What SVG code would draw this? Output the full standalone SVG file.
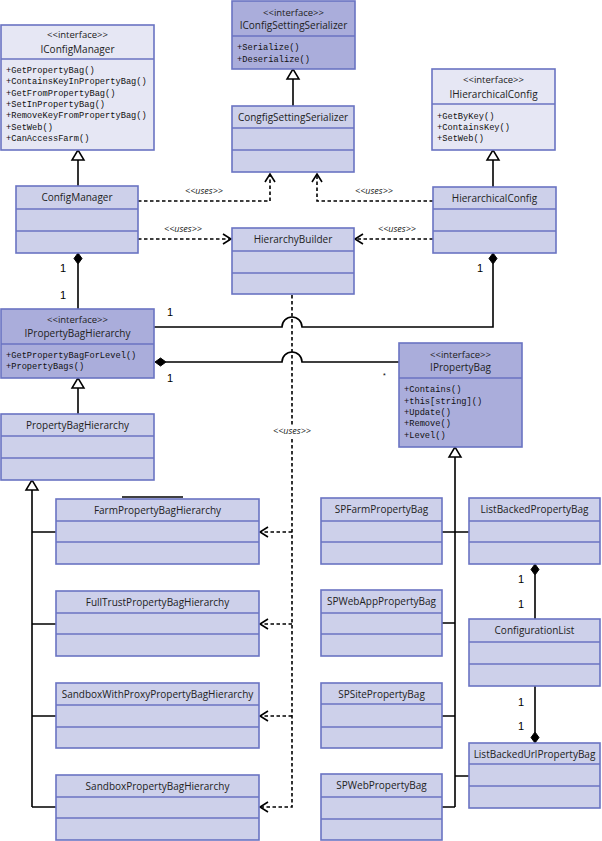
<svg xmlns="http://www.w3.org/2000/svg" width="602" height="841" viewBox="0 0 602 841">
<style>
.cls{fill:#cdd0ea;stroke:#6a73c2;stroke-width:1.6}
.ifd{fill:#aaaddb;stroke:#6a73c2;stroke-width:1.6}
.ifl{fill:#e6e7f4;stroke:#6a73c2;stroke-width:1.6}
.sep{stroke:#6a73c2;stroke-width:1.6}
.nm{font-family:"Open Sans","Noto Sans",sans-serif;font-size:10px;fill:#222;text-anchor:middle}
.st{font-family:"Open Sans","Noto Sans",sans-serif;font-size:9.5px;fill:#222;text-anchor:middle}
.mt{font-family:"Liberation Mono","DejaVu Sans Mono",monospace;font-size:8.7px;fill:#111}
.ln{fill:none;stroke:#000;stroke-width:1.6}
.dl{fill:none;stroke:#000;stroke-width:1.6;stroke-dasharray:3.5,2.5}
.tri{fill:#fff;stroke:#000;stroke-width:1.5}
.dia{fill:#000;stroke:#000;stroke-width:1}
.oa{fill:none;stroke:#000;stroke-width:1.6}
.lb{font-family:"Liberation Sans",Arial,sans-serif;font-size:11px;fill:#000}
.us{font-family:"Open Sans","Noto Sans",sans-serif;font-size:9px;font-style:italic;fill:#222;text-anchor:middle}
</style>

<g id="connectors">
  <!-- generalizations -->
  <path class="ln" d="M78,186 V160"/>
  <polygon class="tri" points="78,150 72,160 84,160"/>
  <path class="ln" d="M293,106 V79"/>
  <polygon class="tri" points="293,69 287,79 299,79"/>
  <path class="ln" d="M493,187 V160"/>
  <polygon class="tri" points="493,150 487,160 499,160"/>
  <path class="ln" d="M78,414 V388"/>
  <polygon class="tri" points="78,378 72,388 84,388"/>
  <path class="ln" d="M32,490 V807 M32,532 H56 M32,624 H56 M32,716 H56 M32,807 H56"/>
  <polygon class="tri" points="32,480 26,490 38,490"/>
  <path class="ln" d="M455,457 V807 M442,532 H469 M442,623 H455 M442,716 H455 M455,776 H469 M442,807 H455"/>
  <polygon class="tri" points="455,447 449,457 461,457"/>

  <!-- uses dependencies -->
  <path class="dl" d="M138,201 H270 V175"/>
  <path class="oa" d="M265,182 L270,174 L275,182"/>
  <path class="dl" d="M433,201 H317 V175"/>
  <path class="oa" d="M312,182 L317,174 L322,182"/>
  <path class="dl" d="M138,239 H230"/>
  <path class="oa" d="M223,234 L231,239 L223,244"/>
  <path class="dl" d="M433,239 H356"/>
  <path class="oa" d="M363,234 L355,239 L363,244"/>
  <path class="dl" d="M292,295 V807 H261 M292,532 H261 M292,624 H261 M292,716 H261"/>
  <path class="oa" d="M268,527 L260,532 L268,537"/>
  <path class="oa" d="M268,619 L260,624 L268,629"/>
  <path class="oa" d="M268,711 L260,716 L268,721"/>
  <path class="oa" d="M268,802 L260,807 L268,812"/>
  <rect x="270" y="425" width="44" height="12" fill="#fff"/>
  <text class="us" x="292" y="434">&lt;&lt;uses&gt;&gt;</text>
  <text class="us" x="204" y="194">&lt;&lt;uses&gt;&gt;</text>
  <text class="us" x="183" y="232">&lt;&lt;uses&gt;&gt;</text>
  <text class="us" x="374" y="194">&lt;&lt;uses&gt;&gt;</text>
  <text class="us" x="397" y="232">&lt;&lt;uses&gt;&gt;</text>

  <!-- compositions -->
  <path class="ln" d="M78,264 V309"/>
  <polygon class="dia" points="78,253 82,258.5 78,264 74,258.5"/>
  <path class="ln" d="M154,327 H282 A10,10 0 0 1 302,327 H493 V264"/>
  <polygon class="dia" points="493,253 497,258.5 493,264 489,258.5"/>
  <path class="ln" d="M166,362 H282 A10,10 0 0 1 302,362 H399"/>
  <polygon class="dia" points="155,362 160.5,358 166,362 160.5,366"/>
  <path class="ln" d="M535,575 V619"/>
  <polygon class="dia" points="535,564 539,569.5 535,575 531,569.5"/>
  <path class="ln" d="M535,686 V732"/>
  <polygon class="dia" points="535,732 539,737.5 535,743 531,737.5"/>

  <!-- multiplicities -->
  <text class="lb" x="60" y="272">1</text>
  <text class="lb" x="60" y="299">1</text>
  <text class="lb" x="477" y="272">1</text>
  <text class="lb" x="167" y="316">1</text>
  <text class="lb" x="167" y="382">1</text>
  <text class="lb" x="383" y="378" style="font-size:7px">*</text>
  <text class="lb" x="518" y="583">1</text>
  <text class="lb" x="518" y="608">1</text>
  <text class="lb" x="518" y="706">1</text>
  <text class="lb" x="518" y="730">1</text>

  <path class="ln" d="M122,497 H183"/>
</g>

<g id="IConfigManager">
  <rect class="ifl" x="1" y="25" width="153" height="125"/>
  <line class="sep" x1="1" y1="59" x2="154" y2="59"/>
  <text class="st" x="77.5" y="38">&lt;&lt;interface&gt;&gt;</text>
  <text class="nm" x="77.5" y="53">IConfigManager</text>
  <text class="mt" x="6" y="73">+GetPropertyBag()</text>
  <text class="mt" x="6" y="84.3">+ContainsKeyInPropertyBag()</text>
  <text class="mt" x="6" y="95.6">+GetFromPropertyBag()</text>
  <text class="mt" x="6" y="106.9">+SetInPropertyBag()</text>
  <text class="mt" x="6" y="118.2">+RemoveKeyFromPropertyBag()</text>
  <text class="mt" x="6" y="129.5">+SetWeb()</text>
  <text class="mt" x="6" y="140.8">+CanAccessFarm()</text>
</g>

<g id="IConfigSettingSerializer">
  <rect class="ifd" x="232" y="1" width="123" height="68"/>
  <line class="sep" x1="232" y1="36" x2="355" y2="36"/>
  <text class="st" x="293.5" y="16">&lt;&lt;interface&gt;&gt;</text>
  <text class="nm" x="293.5" y="29">IConfigSettingSerializer</text>
  <text class="mt" x="237" y="50">+Serialize()</text>
  <text class="mt" x="237" y="62">+Deserialize()</text>
</g>

<g id="IHierarchicalConfig">
  <rect class="ifl" x="432" y="69" width="123" height="81"/>
  <line class="sep" x1="432" y1="104" x2="555" y2="104"/>
  <text class="st" x="493.5" y="83">&lt;&lt;interface&gt;&gt;</text>
  <text class="nm" x="493.5" y="98">IHierarchicalConfig</text>
  <text class="mt" x="437" y="119">+GetByKey()</text>
  <text class="mt" x="437" y="130">+ContainsKey()</text>
  <text class="mt" x="437" y="141">+SetWeb()</text>
</g>

<g id="CongfigSettingSerializer">
  <rect class="cls" x="232" y="106" width="122" height="66"/>
  <line class="sep" x1="232" y1="128" x2="354" y2="128"/>
  <line class="sep" x1="232" y1="150" x2="354" y2="150"/>
  <text class="nm" x="293" y="121">CongfigSettingSerializer</text>
</g>

<g id="ConfigManager">
  <rect class="cls" x="16" y="186" width="122" height="67"/>
  <line class="sep" x1="16" y1="209" x2="138" y2="209"/>
  <line class="sep" x1="16" y1="231" x2="138" y2="231"/>
  <text class="nm" x="77" y="201">ConfigManager</text>
</g>

<g id="HierarchicalConfig">
  <rect class="cls" x="433" y="187" width="123" height="66"/>
  <line class="sep" x1="433" y1="209" x2="556" y2="209"/>
  <line class="sep" x1="433" y1="231" x2="556" y2="231"/>
  <text class="nm" x="494.5" y="202">HierarchicalConfig</text>
</g>

<g id="HierarchyBuilder">
  <rect class="cls" x="232" y="228" width="122" height="66"/>
  <line class="sep" x1="232" y1="251" x2="354" y2="251"/>
  <line class="sep" x1="232" y1="273" x2="354" y2="273"/>
  <text class="nm" x="293" y="243">HierarchyBuilder</text>
</g>

<g id="IPropertyBagHierarchy">
  <rect class="ifd" x="1" y="309" width="153" height="69"/>
  <line class="sep" x1="1" y1="344" x2="154" y2="344"/>
  <text class="st" x="77.5" y="323">&lt;&lt;interface&gt;&gt;</text>
  <text class="nm" x="77.5" y="337">IPropertyBagHierarchy</text>
  <text class="mt" x="6" y="358">+GetPropertyBagForLevel()</text>
  <text class="mt" x="6" y="369">+PropertyBags()</text>
</g>

<g id="IPropertyBag">
  <rect class="ifd" x="399" y="343" width="123" height="104"/>
  <line class="sep" x1="399" y1="378" x2="522" y2="378"/>
  <text class="st" x="460.5" y="358">&lt;&lt;interface&gt;&gt;</text>
  <text class="nm" x="460.5" y="371">IPropertyBag</text>
  <text class="mt" x="404" y="392">+Contains()</text>
  <text class="mt" x="404" y="404">+this[string]()</text>
  <text class="mt" x="404" y="415">+Update()</text>
  <text class="mt" x="404" y="426">+Remove()</text>
  <text class="mt" x="404" y="438">+Level()</text>
</g>

<g id="PropertyBagHierarchy">
  <rect class="cls" x="1" y="414" width="153" height="66"/>
  <line class="sep" x1="1" y1="436" x2="154" y2="436"/>
  <line class="sep" x1="1" y1="458" x2="154" y2="458"/>
  <text class="nm" x="77.5" y="429">PropertyBagHierarchy</text>
</g>

<g id="FarmPropertyBagHierarchy">
  <rect class="cls" x="56" y="499" width="203" height="65"/>
  <line class="sep" x1="56" y1="521" x2="259" y2="521"/>
  <line class="sep" x1="56" y1="542" x2="259" y2="542"/>
  <text class="nm" x="157.5" y="514">FarmPropertyBagHierarchy</text>
</g>

<g id="FullTrustPropertyBagHierarchy">
  <rect class="cls" x="56" y="591" width="203" height="65"/>
  <line class="sep" x1="56" y1="613" x2="259" y2="613"/>
  <line class="sep" x1="56" y1="634" x2="259" y2="634"/>
  <text class="nm" x="157.5" y="606">FullTrustPropertyBagHierarchy</text>
</g>

<g id="SandboxWithProxyPropertyBagHierarchy">
  <rect class="cls" x="56" y="683" width="203" height="65"/>
  <line class="sep" x1="56" y1="705" x2="259" y2="705"/>
  <line class="sep" x1="56" y1="727" x2="259" y2="727"/>
  <text class="nm" x="157.5" y="698">SandboxWithProxyPropertyBagHierarchy</text>
</g>

<g id="SandboxPropertyBagHierarchy">
  <rect class="cls" x="56" y="775" width="203" height="65"/>
  <line class="sep" x1="56" y1="797" x2="259" y2="797"/>
  <line class="sep" x1="56" y1="818" x2="259" y2="818"/>
  <text class="nm" x="157.5" y="790">SandboxPropertyBagHierarchy</text>
</g>

<g id="SPFarmPropertyBag">
  <rect class="cls" x="321" y="498" width="121" height="66"/>
  <line class="sep" x1="321" y1="521" x2="442" y2="521"/>
  <line class="sep" x1="321" y1="542" x2="442" y2="542"/>
  <text class="nm" x="381.5" y="513">SPFarmPropertyBag</text>
</g>

<g id="SPWebAppPropertyBag">
  <rect class="cls" x="321" y="590" width="121" height="66"/>
  <line class="sep" x1="321" y1="613" x2="442" y2="613"/>
  <line class="sep" x1="321" y1="634" x2="442" y2="634"/>
  <text class="nm" x="381.5" y="605">SPWebAppPropertyBag</text>
</g>

<g id="SPSitePropertyBag">
  <rect class="cls" x="321" y="683" width="121" height="65"/>
  <line class="sep" x1="321" y1="704" x2="442" y2="704"/>
  <line class="sep" x1="321" y1="727" x2="442" y2="727"/>
  <text class="nm" x="381.5" y="698">SPSitePropertyBag</text>
</g>

<g id="SPWebPropertyBag">
  <rect class="cls" x="321" y="774" width="121" height="66"/>
  <line class="sep" x1="321" y1="797" x2="442" y2="797"/>
  <line class="sep" x1="321" y1="819" x2="442" y2="819"/>
  <text class="nm" x="381.5" y="789">SPWebPropertyBag</text>
</g>

<g id="ListBackedPropertyBag">
  <rect class="cls" x="469" y="498" width="131" height="66"/>
  <line class="sep" x1="469" y1="521" x2="600" y2="521"/>
  <line class="sep" x1="469" y1="542" x2="600" y2="542"/>
  <text class="nm" x="534.5" y="513">ListBackedPropertyBag</text>
</g>

<g id="ConfigurationList">
  <rect class="cls" x="469" y="619" width="131" height="67"/>
  <line class="sep" x1="469" y1="642" x2="600" y2="642"/>
  <line class="sep" x1="469" y1="664" x2="600" y2="664"/>
  <text class="nm" x="534.5" y="634">ConfigurationList</text>
</g>

<g id="ListBackedUrlPropertyBag">
  <rect class="cls" x="469" y="743" width="131" height="65"/>
  <line class="sep" x1="469" y1="764" x2="600" y2="764"/>
  <line class="sep" x1="469" y1="786" x2="600" y2="786"/>
  <text class="nm" x="534.5" y="758">ListBackedUrlPropertyBag</text>
</g>
</svg>
